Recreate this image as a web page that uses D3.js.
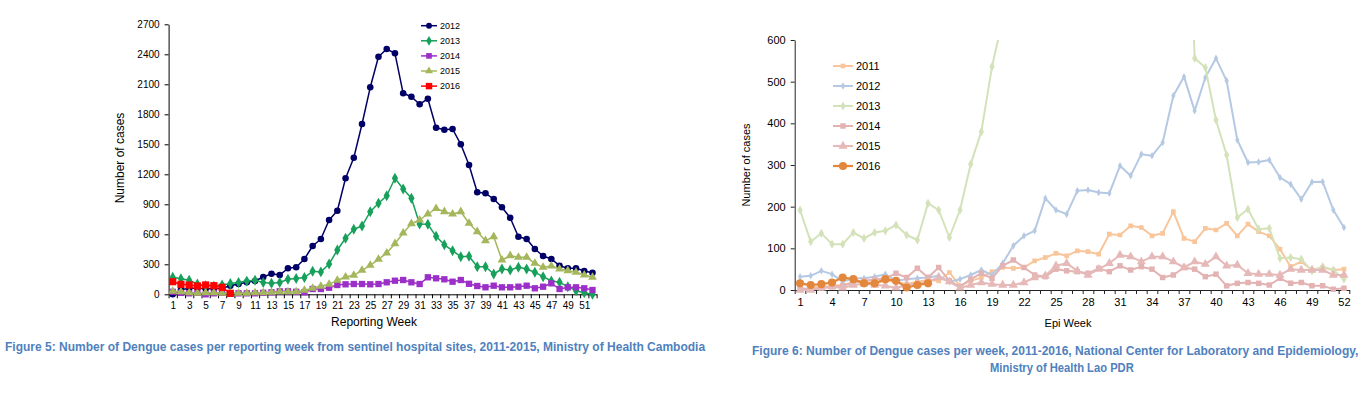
<!DOCTYPE html>
<html>
<head>
<meta charset="utf-8">
<script src="https://cdn.jsdelivr.net/npm/d3@7"></script>
<style>
  body { margin: 0; background: #fff; }
  svg { display: block; }
</style>
</head>
<body>
<svg id="chart" width="1372" height="414"></svg>
<script>
// week categories, both charts
var weeks = d3.range(1, 53);

// Figure 5 - Cambodia, sentinel sites
var khYears = ['2012', '2013', '2014', '2015', '2016'];
var kh2012 = [0, 45, 60, 60, 55, 55, 60, 85, 103, 120, 133, 173, 206, 193, 260, 270, 353, 483, 553, 743,
  836, 1160, 1366, 1703, 2070, 2376, 2453, 2410, 2010, 1976, 1900, 1956, 1666, 1646, 1653, 1500, 1293, 1020, 1010, 953,
  870, 766, 576, 553, 453, 383, 353, 286, 260, 260, 233, 216];
var kh2013 = [170, 155, 140, 103, 85, 82, 94, 108, 118, 132, 140, 118, 110, 118, 150, 158, 168, 230, 224, 303,
  443, 560, 650, 683, 826, 910, 986, 1160, 1053, 960, 703, 700, 580, 495, 436, 376, 380, 276, 276, 203,
  253, 243, 270, 253, 220, 176, 133, 120, 76, 36, 16, 0];
var kh2014 = [25, 15, 10, 15, 0, 10, 15, 5, 10, 10, 10, 15, 20, 30, 30, 25, 20, 53, 53, 66,
  93, 100, 103, 103, 100, 103, 120, 136, 143, 120, 103, 170, 160, 150, 126, 143, 105, 83, 70, 86,
  70, 70, 76, 86, 60, 76, 110, 53, 70, 70, 60, 43];
var kh2015 = [30, 25, 15, 10, 15, 15, 10, 10, 10, 10, 15, 15, 20, 25, 25, 25, 40, 60, 80, 100,
  140, 173, 190, 240, 290, 350, 413, 506, 613, 706, 743, 803, 858, 826, 803, 826, 710, 626, 536, 576,
  343, 386, 370, 370, 310, 270, 283, 253, 236, 220, 193, 170];
var kh2016 = [126, 100, 93, 83, 93, 86, 70, 10];
var khTicks = [0, 300, 600, 900, 1200, 1500, 1800, 2100, 2400, 2700];
var khWeekLabels = d3.range(1, 53, 2);

// Figure 6 - Lao PDR
var laYears = ['2011', '2012', '2013', '2014', '2015', '2016'];
var la2011 = [18, 8, 6, 10, 12, 18, 20, 16, 22, 20, 14, 20, 24, 22, 42, 10, 22, 30, 44, 54,
  52, 54, 70, 78, 88, 82, 94, 92, 86, 134, 132, 154, 150, 130, 136, 188, 124, 116, 148, 144,
  160, 130, 158, 140, 130, 98, 56, 68, 48, 54, 48, 50];
var la2012 = [32, 34, 46, 38, 20, 28, 28, 32, 38, 22, 26, 28, 30, 34, 20, 26, 36, 48, 36, 64,
  106, 130, 142, 220, 192, 182, 238, 240, 234, 232, 298, 274, 326, 322, 354, 466, 512, 430, 510, 556,
  502, 360, 306, 307, 312, 270, 254, 218, 259, 260, 192, 150];
// weeks 20-37 of 2013 run off the top of the chart, guessed from the slopes
var la2013 = [192, 116, 136, 110, 110, 138, 124, 138, 142, 156, 132, 120, 208, 192, 126, 192, 302, 380, 536, 650,
  800, 950, 1100, 1250, 1400, 1500, 1600, 1700, 1650, 1600, 1550, 1500, 1450, 1400, 1350, 1300, 1250, 556, 534, 408,
  324, 174, 194, 146, 148, 76, 78, 74, 46, 56, 48, 26];
var la2014 = [5, 2, 5, 8, 10, 18, 22, 25, 28, 40, 30, 52, 30, 54, 22, 8, 26, 40, 28, 58,
  72, 54, 36, 32, 50, 46, 44, 40, 52, 44, 58, 48, 56, 50, 30, 36, 54, 50, 32, 38,
  10, 16, 18, 16, 12, 28, 16, 18, 10, 10, 2, 4];
var la2015 = [0, 0, 5, 8, 5, 12, 15, 12, 10, 5, 12, 15, 20, 30, 20, 5, 12, 18, 14, 12,
  12, 18, 30, 34, 58, 64, 46, 36, 50, 64, 84, 80, 68, 80, 80, 68, 54, 68, 62, 80,
  58, 60, 40, 38, 38, 36, 50, 48, 48, 48, 36, 36];
var la2016 = [16, 12, 14, 18, 30, 26, 16, 16, 26, 22, 6, 12, 16];
var laTicks = [0, 100, 200, 300, 400, 500, 600];
var laWeekLabels = d3.range(1, 53, 3);

var svg = d3.select('#chart');

function drawAxes(x, y, yTicks, weekLabels, font, axisColor) {
  var yAxis = svg.append('g')
    .attr('transform', 'translate(' + x.range()[0] + ',0)')
    .call(d3.axisLeft(y).tickValues(yTicks).tickFormat(d3.format('d'))
      .tickSize(4).tickPadding(5).tickSizeOuter(0));
  // ticks between the weeks, labels on the weeks
  var xAxis = svg.append('g')
    .attr('transform', 'translate(0,' + y(0) + ')')
    .call(d3.axisBottom(x).tickValues(d3.range(0.5, 53, 1)).tickSize(4).tickFormat('').tickSizeOuter(0));
  var xLabels = svg.append('g')
    .attr('transform', 'translate(0,' + y(0) + ')')
    .call(d3.axisBottom(x).tickValues(weekLabels).tickSize(0).tickPadding(8));
  xLabels.select('.domain').remove();
  [yAxis, xAxis, xLabels].forEach(function (g) {
    g.selectAll('text').attr('font-family', font.family).attr('font-size', font.size).attr('fill', '#000');
    g.selectAll('line, path').attr('stroke', axisColor);
  });
}

function drawSeries(g, x, y, values, s) {
  var pts = values.map(function (v, i) { return [weeks[i], v]; });
  var line = d3.line().x(function (d) { return x(d[0]); }).y(function (d) { return y(d[1]); });
  g.append('path').datum(pts)
    .attr('fill', 'none').attr('stroke', s.color).attr('stroke-width', s.width)
    .attr('stroke-linejoin', 'round').attr('d', line);
  g.selectAll(null).data(pts).enter().append('path')
    .attr('transform', function (d) { return 'translate(' + x(d[0]) + ',' + y(d[1]) + ')'; })
    .attr('d', d3.symbol().type(s.symbol).size(s.size))
    .attr('fill', s.color);
}

function drawLegend(x0, y0, step, lineLen, items, font) {
  items.forEach(function (s, i) {
    var yy = y0 + i * step;
    svg.append('line').attr('x1', x0).attr('x2', x0 + lineLen).attr('y1', yy).attr('y2', yy)
      .attr('stroke', s.color).attr('stroke-width', s.width);
    svg.append('path').attr('transform', 'translate(' + (x0 + lineLen / 2) + ',' + yy + ')')
      .attr('d', d3.symbol().type(s.symbol).size(s.size)).attr('fill', s.color);
    svg.append('text').attr('x', x0 + lineLen + 3).attr('y', yy).attr('dy', '0.35em')
      .attr('font-family', font.family).attr('font-size', font.size).attr('fill', '#000')
      .text(s.name);
  });
}

// caption squeezed to the width it has in the picture
function caption(txt, x, y, width) {
  var t = svg.append('text')
    .attr('font-family', 'Liberation Sans Narrow, Liberation Sans, Arial, sans-serif')
    .attr('font-size', 12.5).attr('font-weight', 'bold').attr('fill', '#4f81bd')
    .text(txt);
  var w = t.node().getComputedTextLength();
  t.attr('transform', 'translate(' + x + ',' + y + ') scale(' + (width / w) + ',1)');
}

// ---- Figure 5 ----
var khX = d3.scaleLinear().domain([0.5, 52.5]).range([168.6, 596.6]);
var khY = d3.scaleLinear().domain([0, 2700]).range([294.3, 24.3]);
var khFont = { family: 'Liberation Sans, Arial, sans-serif', size: 10 };
drawAxes(khX, khY, khTicks, khWeekLabels, khFont, '#000');

var khSeries = [
  { name: khYears[0], values: kh2012, color: '#000066', symbol: d3.symbolCircle, size: 34, width: 1.5 },
  { name: khYears[1], values: kh2013, color: '#16a05a', symbol: d3.symbolDiamond, size: 34, width: 1.5 },
  { name: khYears[2], values: kh2014, color: '#9c2fc8', symbol: d3.symbolSquare, size: 40, width: 1.5 },
  { name: khYears[3], values: kh2015, color: '#a4b75c', symbol: d3.symbolTriangle, size: 34, width: 1.5 },
  { name: khYears[4], values: kh2016, color: '#ff0000', symbol: d3.symbolSquare, size: 52, width: 1.5 }
];
var khG = svg.append('g');
khSeries.forEach(function (s) { drawSeries(khG, khX, khY, s.values, s); });

svg.append('text').attr('x', 374).attr('y', 326).attr('text-anchor', 'middle')
  .attr('font-family', khFont.family).attr('font-size', 12).text('Reporting Week');
svg.append('text').attr('transform', 'translate(124,158) rotate(-90)').attr('text-anchor', 'middle')
  .attr('font-family', khFont.family).attr('font-size', 12).text('Number  of cases');
drawLegend(421, 25.7, 15.1, 16, khSeries.map(function (s) {
  return { name: s.name, color: s.color, symbol: s.symbol, size: s.size * 0.8, width: s.width };
}), { family: khFont.family, size: 9 });

// ---- Figure 6 ----
var laX = d3.scaleLinear().domain([0.5, 52.5]).range([794.7, 1349.3]);
var laY = d3.scaleLinear().domain([0, 600]).range([290, 40]);
var laFont = { family: 'Liberation Sans, Arial, sans-serif', size: 11 };
drawAxes(laX, laY, laTicks, laWeekLabels, laFont, '#222');

var laSeries = [
  { name: laYears[0], values: la2011, color: '#f9c59b', symbol: d3.symbolSquare, size: 22, width: 2 },
  { name: laYears[1], values: la2012, color: '#b6c9e3', symbol: d3.symbolDiamond, size: 16, width: 2 },
  { name: laYears[2], values: la2013, color: '#d4e2ba', symbol: d3.symbolDiamond, size: 24, width: 2 },
  { name: laYears[3], values: la2014, color: '#e3b3b3', symbol: d3.symbolSquare, size: 30, width: 2 },
  { name: laYears[4], values: la2015, color: '#e6b9b9', symbol: d3.symbolTriangle, size: 36, width: 2 },
  { name: laYears[5], values: la2016, color: '#e2873c', symbol: d3.symbolCircle, size: 52, width: 2.25 }
];
svg.append('clipPath').attr('id', 'laClip').append('rect')
  .attr('x', laX.range()[0]).attr('y', laY(600)).attr('width', laX.range()[1] - laX.range()[0] + 10)
  .attr('height', laY(0) - laY(600) + 6);
var laG = svg.append('g').attr('clip-path', 'url(#laClip)');
laSeries.forEach(function (s) { drawSeries(laG, laX, laY, s.values, s); });

svg.append('text').attr('x', 1068).attr('y', 327).attr('text-anchor', 'middle')
  .attr('font-family', laFont.family).attr('font-size', 11).text('Epi Week');
svg.append('text').attr('transform', 'translate(750,165) rotate(-90)').attr('text-anchor', 'middle')
  .attr('font-family', laFont.family).attr('font-size', 11).text('Number of cases');
drawLegend(833, 66, 20, 20, laSeries, { family: laFont.family, size: 11 });

// ---- captions ----
caption('Figure 5: Number of Dengue cases per reporting week from sentinel hospital sites, 2011-2015, Ministry of Health Cambodia', 5, 351, 701);
caption('Figure 6: Number of Dengue cases per week, 2011-2016, National Center for Laboratory and Epidemiology,', 752, 355, 607);
caption('Ministry of Health Lao PDR', 990, 372, 144);
</script>
</body>
</html>
